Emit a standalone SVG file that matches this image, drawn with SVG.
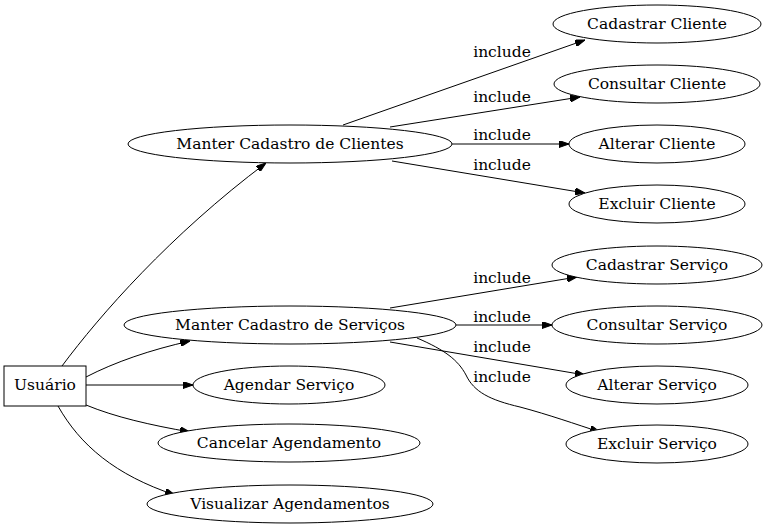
<svg xmlns="http://www.w3.org/2000/svg" width="768" height="531" viewBox="0 0 768 531">
<style>
text{font-family:"DejaVu Serif","Liberation Serif",serif;font-size:15.5px;fill:#000;text-anchor:middle}
.n ellipse,.n rect{fill:#fff;stroke:#000;stroke-width:1}
.e path{fill:none;stroke:#000;stroke-width:1;marker-end:url(#ah)}
</style>
<defs>
<marker id="ah" viewBox="0 0 10 7" refX="10" refY="3.5" markerWidth="10" markerHeight="7" markerUnits="userSpaceOnUse" orient="auto">
<path d="M0,0 L10,3.5 L0,7 z" fill="#000" stroke="#000"/>
</marker>
</defs>
<rect width="768" height="531" fill="#fff"/>
<g id="edges" class="e">
<path d="M62,366 C100,315 170,235 266,163"/>
<path d="M86,377 C115,362 150,350 190,341"/>
<path d="M86,385 L193,385"/>
<path d="M86,405 C115,417 150,425 190,432"/>
<path d="M58,406 C80,445 115,475 175,495"/>
<path d="M343,125 L585,40"/>
<path d="M390,127 L580,97"/>
<path d="M452,144 L569,144"/>
<path d="M392,161 L585,193"/>
<path d="M390,308 L577,277"/>
<path d="M456,325 L552,325"/>
<path d="M390,342 L585,375"/>
<path d="M417,338 C445,350 458,360 466,375 C474,392 490,400 520,407 C550,415 575,424 600,432"/>
<text x="502" y="57">include</text>
<text x="502" y="102">include</text>
<text x="502" y="140">include</text>
<text x="502" y="170">include</text>
<text x="502" y="283">include</text>
<text x="502" y="322">include</text>
<text x="502" y="352">include</text>
<text x="502" y="382">include</text>
</g>
<g id="usuario" class="n"><rect x="4" y="366" width="82" height="40"/><text x="45" y="390">Usuário</text></g>
<g id="manterClientes" class="n"><ellipse cx="290" cy="144" rx="162" ry="19"/><text x="290" y="149">Manter Cadastro de Clientes</text></g>
<g id="manterServicos" class="n"><ellipse cx="290" cy="325" rx="166" ry="19"/><text x="290" y="330">Manter Cadastro de Serviços</text></g>
<g id="agendar" class="n"><ellipse cx="289" cy="385" rx="96" ry="19"/><text x="289" y="390">Agendar Serviço</text></g>
<g id="cancelar" class="n"><ellipse cx="289" cy="443" rx="131" ry="19"/><text x="289" y="448">Cancelar Agendamento</text></g>
<g id="visualizar" class="n"><ellipse cx="290" cy="504" rx="143" ry="19"/><text x="290" y="509">Visualizar Agendamentos</text></g>
<g id="cadastrarCliente" class="n"><ellipse cx="657" cy="24" rx="104" ry="19"/><text x="657" y="29">Cadastrar Cliente</text></g>
<g id="consultarCliente" class="n"><ellipse cx="657" cy="84" rx="103" ry="19"/><text x="657" y="89">Consultar Cliente</text></g>
<g id="alterarCliente" class="n"><ellipse cx="657" cy="144" rx="88" ry="19"/><text x="657" y="149">Alterar Cliente</text></g>
<g id="excluirCliente" class="n"><ellipse cx="657" cy="204" rx="88" ry="19"/><text x="657" y="209">Excluir Cliente</text></g>
<g id="cadastrarServico" class="n"><ellipse cx="657" cy="265" rx="105" ry="19"/><text x="657" y="270">Cadastrar Serviço</text></g>
<g id="consultarServico" class="n"><ellipse cx="657" cy="325" rx="105" ry="19"/><text x="657" y="330">Consultar Serviço</text></g>
<g id="alterarServico" class="n"><ellipse cx="657" cy="385" rx="91" ry="19"/><text x="657" y="390">Alterar Serviço</text></g>
<g id="excluirServico" class="n"><ellipse cx="657" cy="444" rx="91" ry="19"/><text x="657" y="449">Excluir Serviço</text></g>
</svg>
